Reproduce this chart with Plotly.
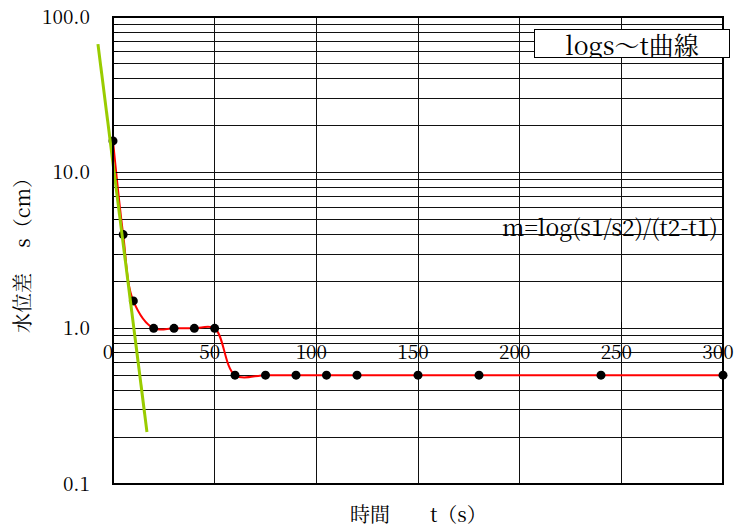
import math
import plotly.graph_objects as go

# Observed head difference s (cm) against elapsed time t (s)
t_obs = [0, 5, 10, 20, 30, 40, 50, 60, 75, 90, 105, 120, 150, 180, 240, 300]
s_obs = [16, 4, 1.5, 1.0, 1.0, 1.0, 1.0, 0.5, 0.5, 0.5, 0.5, 0.5, 0.5, 0.5, 0.5, 0.5]

# Straight line fitted to the early log(s) decline
t_fit = [-7.4, 16.7]
s_fit = [67.0, 0.216]

# Axis ticks
x_ticks = [0, 50, 100, 150, 200, 250, 300]
x_ticklabels = ["0", "50", "100", "150", "200", "250", "300"]
y_ticks = [0.1, 1, 10, 100]
y_ticklabels = ["0.1", "1.0", "10.0", "100.0"]
y_minor = [m * 10 ** e for e in (-1, 0, 1) for m in range(2, 10)]

W, H = 739, 527
L_PX, R_PX, T_PX, B_PX = 113, 723, 17, 484
EXT_PX = 94  # left edge of the overlay used for the fitted line

xdom = [L_PX / W, R_PX / W]
ydom = [1 - B_PX / H, 1 - T_PX / H]
scale = (R_PX - L_PX) / (x_ticks[-1] - x_ticks[0])
x2_min = -(L_PX - EXT_PX) / scale

ylog = [math.log10(y_ticks[0]), math.log10(y_ticks[-1])]
# x axis drawn across the plot at s = 1.0
x_axis_pos = ydom[0] + (ydom[1] - ydom[0]) * (0 - ylog[0]) / (ylog[1] - ylog[0])

SERIF = "Noto Serif CJK JP"
NUM_FONT = dict(family=SERIF, size=19, color="black")

fig = go.Figure()

fig.add_trace(go.Scatter(
    x=t_obs, y=s_obs, mode="lines",
    line=dict(color="#ff0000", width=2, shape="spline", smoothing=1),
    xaxis="x", yaxis="y", hoverinfo="skip",
))
fig.add_trace(go.Scatter(
    x=t_obs, y=s_obs, mode="markers",
    marker=dict(color="black", size=9),
    cliponaxis=False, xaxis="x", yaxis="y",
))
fig.add_trace(go.Scatter(
    x=t_fit, y=s_fit, mode="lines",
    line=dict(color="#99cc00", width=3),
    xaxis="x2", yaxis="y2",
))

grid = dict(showgrid=True, gridcolor="#111111", gridwidth=1)

fig.update_layout(
    width=W, height=H,
    template="none",
    paper_bgcolor="white", plot_bgcolor="rgba(0,0,0,0)",
    margin=dict(l=0, r=0, t=0, b=0),
    showlegend=False,
    xaxis=dict(
        domain=xdom, range=[x_ticks[0], x_ticks[-1]],
        anchor="free", position=x_axis_pos,
        tickmode="array", tickvals=x_ticks, ticktext=x_ticklabels,
        ticks="inside", ticklen=6, tickcolor="black", tickwidth=1,
        ticklabelstandoff=11, ticklabelshift=-5,
        tickfont=NUM_FONT, showline=False, zeroline=False, **grid,
    ),
    yaxis=dict(
        domain=ydom, type="log", range=ylog, anchor="x",
        tickmode="array", tickvals=y_ticks, ticktext=y_ticklabels,
        ticks="inside", ticklen=5, tickcolor="black",
        ticklabelstandoff=22, tickfont=NUM_FONT,
        minor=dict(tickmode="array", tickvals=y_minor, ticks="inside", ticklen=5,
                   tickcolor="black", showgrid=True, gridcolor="#111111", gridwidth=1),
        showline=False, zeroline=False, **grid,
        title=dict(text="水位差　 s（cm）", font=dict(family=SERIF, size=20, color="black"),
                   standoff=5),
    ),
    xaxis2=dict(domain=[EXT_PX / W, R_PX / W], range=[x2_min, x_ticks[-1]],
                anchor="y2", visible=False),
    yaxis2=dict(domain=ydom, type="log", range=ylog, anchor="x2", visible=False),
)

# plot frame
fig.add_shape(type="rect", xref="x domain", yref="y domain", x0=0, x1=1, y0=0, y1=1,
              line=dict(color="black", width=2), fillcolor="rgba(0,0,0,0)", layer="above")

fig.add_annotation(
    text="logs～t曲線", xref="paper", yref="paper",
    x=632 / W, y=1 - 43.5 / H, xanchor="center", yanchor="middle",
    showarrow=False, width=194, height=27, borderpad=0,
    bgcolor="white", bordercolor="black", borderwidth=1,
    font=dict(family=SERIF, size=25, color="black"),
)
fig.add_annotation(
    text="m=log(s1/s2)/(t2-t1)", xref="paper", yref="paper",
    x=720 / W, y=1 - 227 / H, xanchor="right", yanchor="middle",
    showarrow=False, font=dict(family=SERIF, size=23, color="black"),
)
fig.add_annotation(
    text="時間　　t（s）", xref="x domain", yref="paper",
    x=0.5, y=1 - 513 / H, xanchor="center", yanchor="middle",
    showarrow=False, font=dict(family=SERIF, size=20, color="black"),
)

fig.write_html("out.html")
